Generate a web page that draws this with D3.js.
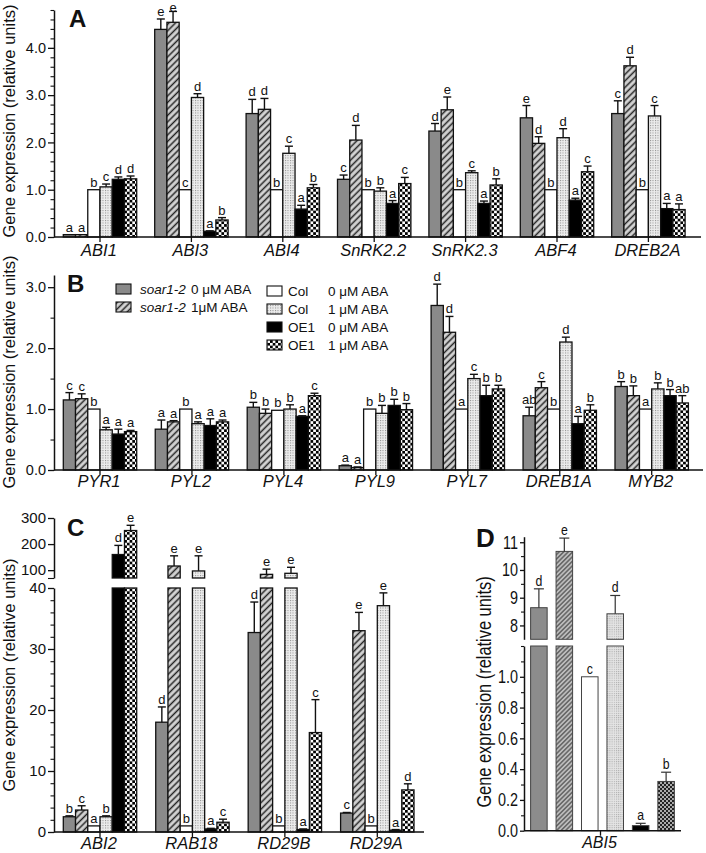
<!DOCTYPE html>
<html><head><meta charset="utf-8">
<script src="https://cdn.jsdelivr.net/npm/d3@7"></script>
<style>
body{margin:0;background:#fff}
svg{display:block}
text{font-family:"Liberation Sans",Arial,Helvetica,sans-serif;fill:#111}
</style>
</head><body>
<svg id="chart" width="706" height="853"></svg>
<script>
// ---------------- DATA ----------------
const seriesGenotype = ["soar1-2","soar1-2","Col","Col","OE1","OE1"];
const seriesTreatment = ["0 μM ABA","1μM ABA","0 μM ABA","1 μM ABA","0 μM ABA","1 μM ABA"];

const genesA = ["ABI1","ABI3","ABI4","SnRK2.2","SnRK2.3","ABF4","DREB2A"];
const meansA = [
  [0.05,0.05,1.0,1.06,1.22,1.23],
  [4.39,4.54,1.0,2.95,0.12,0.36],
  [2.61,2.70,1.0,1.77,0.59,1.04],
  [1.22,2.05,1.0,0.97,0.71,1.13],
  [2.24,2.69,1.0,1.36,0.71,1.10],
  [2.52,1.98,1.0,2.10,0.78,1.38],
  [2.61,3.62,1.0,2.56,0.60,0.58]
];
const sdA = [
  [0,0,0,0.06,0.05,0.06],
  [0.22,0.23,0,0.08,0.01,0.05],
  [0.30,0.23,0,0.15,0.08,0.07],
  [0.09,0.31,0,0.07,0.06,0.13],
  [0.16,0.27,0,0.04,0.05,0.13],
  [0.26,0.14,0,0.19,0.04,0.12],
  [0.27,0.18,0,0.22,0.11,0.12]
];
const lettersA = [
  ["a","a","b","c","d","d"],
  ["e","e","c","d","a","b"],
  ["d","d","b","c","a","b"],
  ["c","d","b","b","a","c"],
  ["d","e","b","c","a","b"],
  ["e","d","b","d","a","c"],
  ["c","d","b","c","a","a"]
];

const genesB = ["PYR1","PYL2","PYL4","PYL9","PYL7","DREB1A","MYB2"];
const meansB = [
  [1.15,1.17,1.0,0.66,0.59,0.63],
  [0.67,0.79,1.0,0.76,0.73,0.79],
  [1.03,0.93,0.98,1.00,0.88,1.22],
  [0.07,0.04,1.0,0.93,1.06,0.99],
  [2.70,2.26,1.0,1.50,1.22,1.33],
  [0.89,1.35,1.0,2.10,0.76,0.98],
  [1.37,1.22,1.0,1.33,1.22,1.10]
];
const sdB = [
  [0.12,0.08,0,0.04,0.08,0.02],
  [0.15,0.02,0,0.03,0.11,0.03],
  [0.08,0.07,0,0.07,0.01,0.04],
  [0.01,0.01,0,0.13,0.10,0.10],
  [0.35,0.26,0,0.07,0.17,0.06],
  [0.14,0.10,0,0.08,0.12,0.09],
  [0.08,0.16,0,0.10,0.10,0.12]
];
const lettersB = [
  ["c","c","b","a","a","a"],
  ["a","a","b","a","a","a"],
  ["b","b","b","b","a","c"],
  ["a","a","b","b","b","b"],
  ["d","d","a","c","b","b"],
  ["ab","c","b","d","a","b"],
  ["b","b","a","b","b","ab"]
];

const genesC = ["ABI2","RAB18","RD29B","RD29A"];
const meansC = [
  [2.5,3.6,1.0,2.5,160,252],
  [18.0,116,1.0,97,0.5,1.6],
  [32.7,84,1.0,88,0.4,16.3],
  [3.1,33.0,1.0,37.1,0.3,6.9]
];
const sdC = [
  [0.15,0.7,0,0.15,35,20],
  [2.5,39,0,58,0.1,0.5],
  [5.0,20,0,23,0.1,5.4],
  [0.1,3.0,0,2.1,0.1,1.0]
];
const lettersC = [
  ["b","c","a","b","d","e"],
  ["d","e","b","e","a","c"],
  ["d","e","b","e","a","c"],
  ["c","e","b","e","a","d"]
];

const genesD = ["ABI5"];
const meansD = [[8.64,10.67,1.0,8.42,0.033,0.32]];
const sdD = [[0.68,0.48,0,0.66,0.015,0.06]];
const lettersD = [["d","e","c","d","a","b"]];

const ticksA = [0,1,2,3,4];
const ticksB = [0,1,2,3];
const ticksCLow = [0,10,20,30,40];
const ticksCHigh = [100,200,300];
const ticksDLow = [0,0.2,0.4,0.6,0.8,1.0];
const ticksDHigh = [8,9,10,11];
const yTitle = "Gene expression (relative units)";

// ---------------- SETUP ----------------
const svg = d3.select("#chart");
svg.append("rect").attr("width",706).attr("height",853).attr("fill","#fff");
const defs = svg.append("defs");

function hatch(id, size, bg, fg, sw){
  const p = defs.append("pattern").attr("id",id).attr("patternUnits","userSpaceOnUse")
    .attr("width",size).attr("height",size).attr("patternTransform","rotate(45)");
  p.append("rect").attr("width",size).attr("height",size).attr("fill",bg);
  p.append("line").attr("x1",size/2).attr("x2",size/2).attr("y1",0).attr("y2",size)
    .attr("stroke",fg).attr("stroke-width",sw);
}
function dots(id, size, bg, fg, r){
  const p = defs.append("pattern").attr("id",id).attr("patternUnits","userSpaceOnUse")
    .attr("width",size).attr("height",size);
  p.append("rect").attr("width",size).attr("height",size).attr("fill",bg);
  p.append("rect").attr("x",0).attr("y",0).attr("width",r).attr("height",r).attr("fill",fg);
}
function checker(id, size, bg, fg){
  const p = defs.append("pattern").attr("id",id).attr("patternUnits","userSpaceOnUse")
    .attr("width",size).attr("height",size);
  p.append("rect").attr("width",size).attr("height",size).attr("fill",bg);
  p.append("rect").attr("width",size/2).attr("height",size/2).attr("fill",fg);
  p.append("rect").attr("x",size/2).attr("y",size/2).attr("width",size/2).attr("height",size/2).attr("fill",fg);
}
hatch("hatch",4.6,"#d4d4d4","#222",1.5);
dots("dots",2.5,"#ececec","#8a8a8a",1);
checker("chk",5.4,"#fff","#000");
hatch("hatchD",3.2,"#bdbdbd","#444",1.1);
dots("dotsD",2.2,"#e4e4e4","#a8a8a8",1);
checker("chkD",4,"#aaa","#222");

const fillsMain = ["#8a8a8a","url(#hatch)","#fff","url(#dots)","#000","url(#chk)"];
const fillsD = ["#8c8c8c","url(#hatchD)","#fff","url(#dotsD)","#000","url(#chkD)"];

const inner = d3.scaleBand().domain(d3.range(6)).range([-36.7,36.7]).paddingInner(0);

function drawBars(g, o){
  o.genes.forEach((gene, gi) => {
    o.means[gi].forEach((v, si) => {
      const x0 = o.xPos(gene, si), w = o.bw;
      o.segs.forEach(s => {
        const [lo, hi] = s.domain();
        if (v > lo) {
          const top = s(Math.min(v, hi)), bot = s(lo);
          g.append("rect").attr("x",x0).attr("y",top).attr("width",w).attr("height",Math.max(0.8,bot-top))
            .attr("fill",o.fills[si]).attr("stroke",o.stroke).attr("stroke-width",o.sw);
        }
      });
      const sd = o.sds[gi][si], e = v + sd;
      const s = o.segs.find(s => v >= s.domain()[0] && v <= s.domain()[1]);
      const cx = x0 + w/2;
      let ly = s(v);
      if (sd > 0) {
        const ye = s(Math.min(e, s.domain()[1]));
        g.append("line").attr("x1",cx).attr("x2",cx).attr("y1",s(v)).attr("y2",ye)
          .attr("stroke",o.estroke).attr("stroke-width",o.esw);
        g.append("line").attr("x1",cx-o.cap).attr("x2",cx+o.cap).attr("y1",ye).attr("y2",ye)
          .attr("stroke",o.estroke).attr("stroke-width",o.esw);
        ly = ye;
      }
      const t = g.append("text").attr("y",Math.max(11.5, ly-3)).attr("text-anchor","middle")
        .attr("font-size",o.lfs).text(o.letters[gi][si]);
      if (o.lsx) t.attr("x",cx/o.lsx).attr("transform",`scale(${o.lsx},1)`);
      else t.attr("x",cx);
    });
  });
}

function yAxis(g, x, scale, major, fmt, minor, opts){
  opts = opts || {};
  const ts = opts.ts||6;
  const ax = g.append("g").attr("transform",`translate(${x},0)`)
    .call(d3.axisLeft(scale).tickValues(major).tickFormat(fmt).tickSize(ts).tickSizeOuter(0).tickPadding(2));
  ax.select(".domain").attr("stroke","#111").attr("stroke-width",1.5);
  ax.selectAll(".tick line").attr("stroke","#111").attr("stroke-width",1.3);
  const tt = ax.selectAll(".tick text").attr("font-size",opts.fs||14.5).attr("fill","#111")
    .attr("font-family","Liberation Sans, Arial, sans-serif");
  if (opts.sx) tt.attr("x", -(ts+2)/opts.sx).attr("transform",`scale(${opts.sx},1)`);
  if (minor && minor.length){
    const mx = g.append("g").attr("transform",`translate(${x},0)`)
      .call(d3.axisLeft(scale).tickValues(minor).tickFormat("").tickSize(opts.mts||3.5).tickSizeOuter(0));
    mx.select(".domain").remove();
    mx.selectAll(".tick line").attr("stroke","#111").attr("stroke-width",1.1);
  }
}

function xAxis(g, y, x1, x2, genes, pos, fs, ty){
  g.append("line").attr("x1",x1).attr("x2",x2).attr("y1",y).attr("y2",y).attr("stroke","#111").attr("stroke-width",1.5);
  genes.forEach(gn => {
    const cx = pos(gn);
    g.append("line").attr("x1",cx).attr("x2",cx).attr("y1",y).attr("y2",y+5).attr("stroke","#111").attr("stroke-width",1.3);
    g.append("text").attr("x",cx-1).attr("y",ty).attr("text-anchor","middle").attr("font-size",fs)
      .attr("font-style","italic").text(gn);
  });
}

function title(x, cy, size, sx){
  svg.append("text").attr("transform",`translate(${x},${cy}) rotate(-90) scale(${sx||1},1)`).attr("text-anchor","middle")
    .attr("font-size",size).text(yTitle);
}
function panelLetter(t, x, y, size){
  svg.append("text").attr("x",x).attr("y",y).attr("font-size",size).attr("font-weight","bold").text(t);
}

const minorRange = (a,b,step,skip) => d3.range(Math.round((b-a)/step)+1).map(i => +(a+i*step).toFixed(4))
  .filter(v => !skip.some(s => Math.abs(s-v) < 1e-6));

// ---------------- PANEL A ----------------
const gA = svg.append("g");
const yA = d3.scaleLinear().domain([0,4.8]).range([237,10]);
const xA = d3.scalePoint().domain(genesA).range([100,648.4]);
yAxis(gA, 54, yA, ticksA, d3.format(".1f"), minorRange(0,4.8,0.2,ticksA));
drawBars(gA,{genes:genesA,means:meansA,sds:sdA,letters:lettersA,xPos:(g,s)=>xA(g)+inner(s),bw:inner.bandwidth(),
  segs:[yA],fills:fillsMain,stroke:"#111",sw:1.3,estroke:"#111",esw:1.4,cap:4,lfs:13});
xAxis(gA, 237, 54, 701, genesA, xA, 16.5, 256);
title(15, 121, 16.5);
panelLetter("A", 69, 27, 24);

// ---------------- PANEL B ----------------
const gB = svg.append("g");
const yB = d3.scaleLinear().domain([0,3.2]).range([470,275]);
const xB = d3.scalePoint().domain(genesB).range([100,651.7]);
yAxis(gB, 54, yB, ticksB, d3.format(".1f"), minorRange(0,3.0,0.5,ticksB));
drawBars(gB,{genes:genesB,means:meansB,sds:sdB,letters:lettersB,xPos:(g,s)=>xB(g)+inner(s),bw:inner.bandwidth(),
  segs:[yB],fills:fillsMain,stroke:"#111",sw:1.3,estroke:"#111",esw:1.4,cap:4,lfs:13});
xAxis(gB, 470, 54, 703, genesB, xB, 16.5, 487);
title(15, 372, 16.5);
panelLetter("B", 67, 292, 24);

// legend
const leg = svg.append("g");
const legL = d3.scaleLinear().domain([0,1]).range([284,302]);
const legR = d3.scaleLinear().domain([0,1]).range([286,304]);
[0,1].forEach(i => {
  const y = legL(i);
  leg.append("rect").attr("x",116).attr("y",y).attr("width",15).attr("height",10)
    .attr("fill",fillsMain[i]).attr("stroke","#111").attr("stroke-width",1.1);
  leg.append("text").attr("x",140).attr("y",y+10).attr("font-size",13.5).attr("font-style","italic").text(seriesGenotype[i]);
  leg.append("text").attr("x",191).attr("y",y+10).attr("font-size",13.5).text(seriesTreatment[i]);
});
[2,3,4,5].forEach((si,i) => {
  const y = legR(i);
  leg.append("rect").attr("x",267).attr("y",y).attr("width",15).attr("height",10)
    .attr("fill",fillsMain[si]).attr("stroke","#111").attr("stroke-width",1.1);
  leg.append("text").attr("x",288).attr("y",y+10).attr("font-size",13.5).text(seriesGenotype[si]);
  leg.append("text").attr("x",328).attr("y",y+10).attr("font-size",13.5).text(seriesTreatment[si]);
});

// ---------------- PANEL C ----------------
const gC = svg.append("g");
const yCLow = d3.scaleLinear().domain([0,40]).range([832,588]);
const yCHigh = d3.scaleLinear().domain([70,300]).range([578,518]);
const xC = d3.scalePoint().domain(genesC).range([100,377.3]);
yAxis(gC, 54, yCLow, ticksCLow, d3.format("d"), minorRange(0,40,2,ticksCLow), {fs:15});
yAxis(gC, 54, yCHigh, ticksCHigh, d3.format("d"), [70], {fs:15, mts:6});
drawBars(gC,{genes:genesC,means:meansC,sds:sdC,letters:lettersC,xPos:(g,s)=>xC(g)+inner(s),bw:inner.bandwidth(),
  segs:[yCLow,yCHigh],fills:fillsMain,stroke:"#111",sw:1.3,estroke:"#111",esw:1.4,cap:4,lfs:13});
xAxis(gC, 832, 54, 424, genesC, xC, 16.5, 849);
title(15, 675, 16.5);
panelLetter("C", 67, 536, 24);

// ---------------- PANEL D ----------------
const gD = svg.append("g");
const yDLow = d3.scaleLinear().domain([0,1.2]).range([830.7,646]);
const yDHigh = d3.scaleLinear().domain([7.5,11.2]).range([639.3,536.7]);
const xD = d3.scaleBand().domain(d3.range(6)).range([524,681]).paddingInner(0.35).paddingOuter(0.26);
yAxis(gD, 524, yDLow, ticksDLow, d3.format(".1f"), minorRange(0,1.2,0.1,ticksDLow), {fs:18, sx:0.8, ts:4, mts:3});
yAxis(gD, 524, yDHigh, ticksDHigh, d3.format("d"), [8.5,9.5,10.5], {fs:18, sx:0.8, ts:4, mts:3});
drawBars(gD,{genes:genesD,means:meansD,sds:sdD,letters:lettersD,xPos:(g,s)=>xD(s),bw:xD.bandwidth(),
  segs:[yDLow,yDHigh],fills:fillsD,stroke:"#444",sw:1,estroke:"#333",esw:1.2,cap:5,lfs:15,lsx:0.82});
xAxis(gD, 830.7, 524, 681, genesD, () => (xD(2)+xD.bandwidth()+xD(3))/2 - 2, 16, 848);
title(491, 692, 20, 0.82);
panelLetter("D", 476, 547, 26);
</script>
</body></html>
